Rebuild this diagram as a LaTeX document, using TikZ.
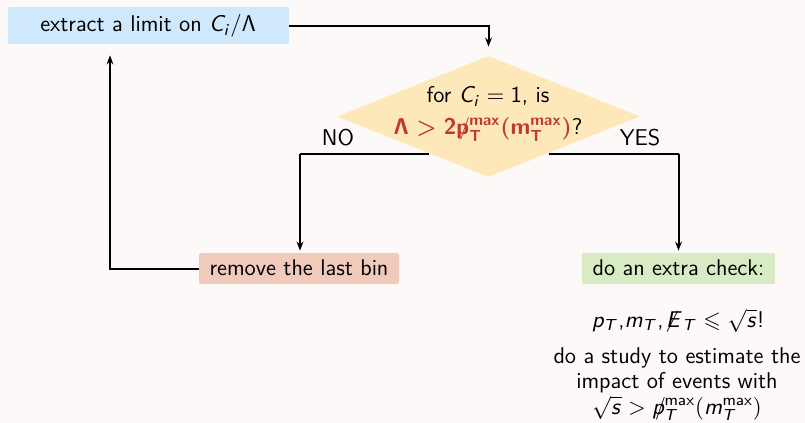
\RequirePackage{fix-cm}
\documentclass[tikz,border=0pt]{standalone}
\usepackage{amssymb}
\usetikzlibrary{shapes.geometric,arrows.meta}
% sans-serif math letters and digits, slide style
\DeclareSymbolFont{sfletters}{OT1}{cmss}{m}{sl}
\SetSymbolFont{sfletters}{bold}{OT1}{cmss}{bx}{n}
\DeclareSymbolFont{sfup}{OT1}{cmss}{m}{n}
\SetSymbolFont{sfup}{bold}{OT1}{cmss}{bx}{n}
\DeclareMathSymbol{C}{\mathalpha}{sfletters}{`C}
\DeclareMathSymbol{E}{\mathalpha}{sfletters}{`E}
\DeclareMathSymbol{T}{\mathalpha}{sfletters}{`T}
\DeclareMathSymbol{i}{\mathalpha}{sfletters}{`i}
\DeclareMathSymbol{m}{\mathalpha}{sfletters}{`m}
\DeclareMathSymbol{p}{\mathalpha}{sfletters}{`p}
\DeclareMathSymbol{s}{\mathalpha}{sfletters}{`s}
\DeclareMathSymbol{1}{\mathalpha}{sfup}{`1}
\DeclareMathSymbol{2}{\mathalpha}{sfup}{`2}
\DeclareMathSymbol{\Lambda}{\mathalpha}{sfup}{"03}
\definecolor{bgc}{HTML}{FDF9F8}
\definecolor{bluebox}{HTML}{CFE8FB}
\definecolor{yellowbox}{HTML}{FDE8BA}
\definecolor{redbox}{HTML}{F0CBBB}
\definecolor{greenbox}{HTML}{D8EBC4}
\definecolor{alertred}{HTML}{C0392B}
\newcommand{\slp}{\rlap{\hspace{0.12em}/}p}
\newcommand{\mx}{\mathsf{max}}
\tikzset{
  x=0.5pt, y=-0.5pt,
  txt/.style={font=\sffamily\fontsize{11.4}{13}\selectfont, inner sep=0pt},
  every node/.style={txt},
  line/.style={txt, anchor=base},
  box/.style={rounded corners=1pt, inner sep=0pt, anchor=center},
  flow/.style={draw=black, line width=1pt, -{Stealth[length=4.5pt,width=3.4pt]}},
  plain/.style={draw=black, line width=1pt}
}
\begin{document}
\begin{tikzpicture}
\fill[bgc] (0,0) rectangle (805,423);
\useasboundingbox (0,0) rectangle (805,423);

% boxes
\node[box, fill=bluebox, minimum width=140.5pt, minimum height=18.5pt] (limit) at (148.5,25.5) {};
\node[line] (limittxt) at (148,32) {extract a limit on $C_i/\Lambda$};
\node[diamond, fill=yellowbox, minimum width=151.5pt, minimum height=60.5pt, inner sep=0pt, aspect=2.5] (test) at (488.5,116.5) {};
\node[line] (l1) at (488,103) {for $C_i = 1$, is};
\node[line] (l2) at (488,134) {\textcolor{alertred}{\boldmath$\Lambda > 2\slp_T^{\mx}(m_T^{\mx})$}?};
\node[box, fill=redbox, minimum width=100pt, minimum height=15.5pt] (remove) at (299,268.5) {};
\node[line] (removetxt) at (299,275) {remove the last bin};
\node[box, fill=greenbox, minimum width=96.5pt, minimum height=15.5pt] (check) at (678.5,268.5) {};
\node[line] (checktxt) at (678.5,275) {do an extra check:};

% branch labels
\node[line] (no) at (338,145) {NO};
\node[line] (yes) at (640,145) {YES};

% notes under the check
\node[line] (ineq) at (678,327) {$p_T$,$m_T$,$\not{\!E}_T \leqslant \sqrt{s}$!};
\node[line] (study1) at (677,363) {do a study to estimate the};
\node[line] (study2) at (677,388) {impact of events with};
\node[line] (study3) at (677,414) {$\sqrt{s} > \slp_T^{\mx}(m_T^{\mx})$};

% branch corners on the diamond edge
\coordinate (nol) at (428.5,153.5);
\coordinate (nor) at (300,153.5);
\coordinate (yesl) at (548.5,153.5);
\coordinate (yesr) at (678.5,153.5);

\draw[flow, shorten >=4.5pt] (limit.east) -| (test.north);
\draw[plain] (nol) -- (nor);
\draw[flow, shorten >=1pt] (nor) -- (remove.north -| nor);
\draw[plain] (yesl) -- (yesr);
\draw[flow, shorten >=1pt] (yesr) -- (check.north -| yesr);
\draw[flow, shorten >=5.5pt] (remove.west) -| (limit.south -| 110,0);
\end{tikzpicture}
\end{document}
